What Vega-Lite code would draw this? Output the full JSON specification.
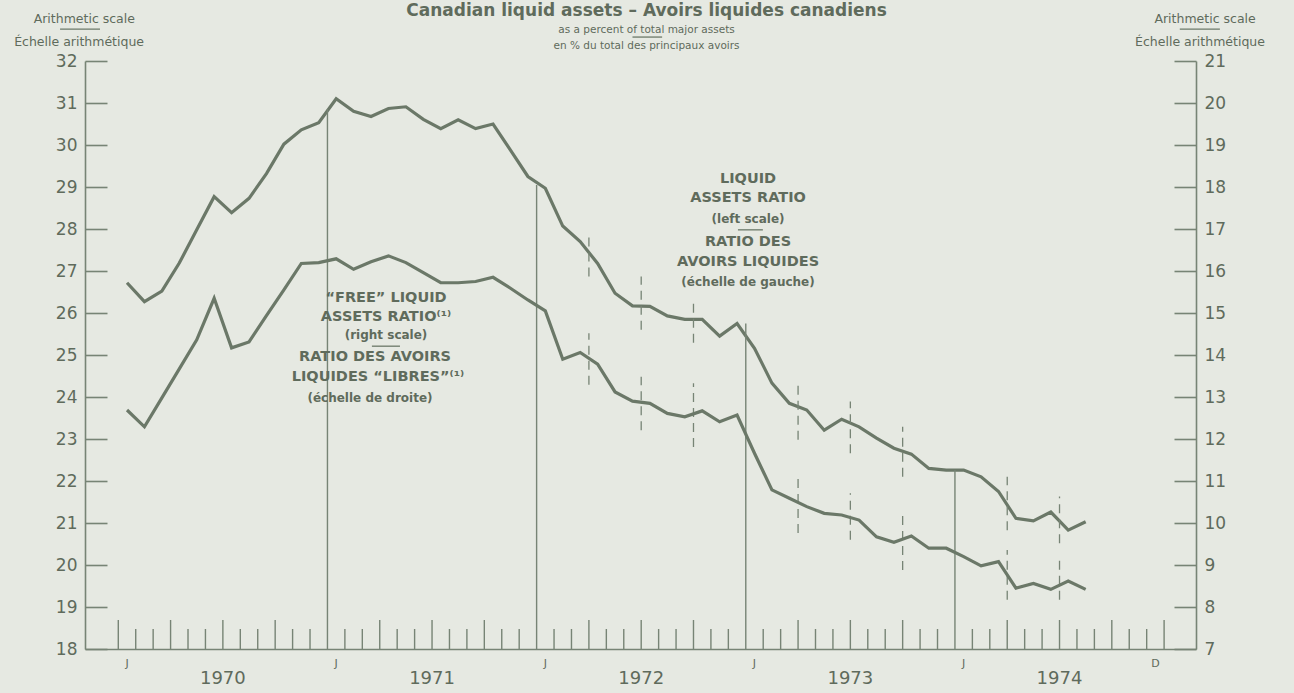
{
  "$schema": "https://vega.github.io/schema/vega-lite/v6.json",
  "width": 1111,
  "height": 588,
  "autosize": {"type": "none"},
  "padding": {"left": 85, "top": 61, "right": 98, "bottom": 44},
  "background": "#e6e9e2",
  "title": {
    "text": "Canadian liquid assets – Avoirs liquides canadiens",
    "subtitle": ["as a percent of total major assets", "en % du total des principaux avoirs"],
    "anchor": "middle",
    "dx": 6,
    "font": "DejaVu Sans",
    "fontSize": 17,
    "fontWeight": "bold",
    "color": "#5f6b5c",
    "subtitleFont": "DejaVu Sans",
    "subtitleFontSize": 10.5,
    "subtitleColor": "#5f6b5c",
    "subtitlePadding": 5,
    "subtitleLineHeight": 16,
    "offset": -39
  },
  "config": {
    "view": {"stroke": null},
    "axis": {
      "grid": false,
      "domainColor": "#778475",
      "domainWidth": 1.6,
      "tickColor": "#778475",
      "tickWidth": 1.6,
      "labelColor": "#5f6b5c",
      "labelFont": "DejaVu Sans",
      "labelFontSize": 17
    }
  },
  "datasets": {
    "upper": [
      {"month": "1970-01", "t": 0.5, "v": 26.72},
      {"month": "1970-02", "t": 1.5, "v": 26.27},
      {"month": "1970-03", "t": 2.5, "v": 26.52},
      {"month": "1970-04", "t": 3.5, "v": 27.19},
      {"month": "1970-05", "t": 4.5, "v": 27.98},
      {"month": "1970-06", "t": 5.5, "v": 28.77},
      {"month": "1970-07", "t": 6.5, "v": 28.39},
      {"month": "1970-08", "t": 7.5, "v": 28.73},
      {"month": "1970-09", "t": 8.5, "v": 29.32},
      {"month": "1970-10", "t": 9.5, "v": 30.02},
      {"month": "1970-11", "t": 10.5, "v": 30.36},
      {"month": "1970-12", "t": 11.5, "v": 30.53},
      {"month": "1971-01", "t": 12.5, "v": 31.1},
      {"month": "1971-02", "t": 13.5, "v": 30.8},
      {"month": "1971-03", "t": 14.5, "v": 30.68},
      {"month": "1971-04", "t": 15.5, "v": 30.87},
      {"month": "1971-05", "t": 16.5, "v": 30.91},
      {"month": "1971-06", "t": 17.5, "v": 30.61},
      {"month": "1971-07", "t": 18.5, "v": 30.39},
      {"month": "1971-08", "t": 19.5, "v": 30.6},
      {"month": "1971-09", "t": 20.5, "v": 30.39},
      {"month": "1971-10", "t": 21.5, "v": 30.5},
      {"month": "1971-11", "t": 22.5, "v": 29.88},
      {"month": "1971-12", "t": 23.5, "v": 29.25},
      {"month": "1972-01", "t": 24.5, "v": 28.97},
      {"month": "1972-02", "t": 25.5, "v": 28.07},
      {"month": "1972-03", "t": 26.5, "v": 27.7},
      {"month": "1972-04", "t": 27.5, "v": 27.18},
      {"month": "1972-05", "t": 28.5, "v": 26.47},
      {"month": "1972-06", "t": 29.5, "v": 26.17},
      {"month": "1972-07", "t": 30.5, "v": 26.16},
      {"month": "1972-08", "t": 31.5, "v": 25.93},
      {"month": "1972-09", "t": 32.5, "v": 25.85},
      {"month": "1972-10", "t": 33.5, "v": 25.85},
      {"month": "1972-11", "t": 34.5, "v": 25.45},
      {"month": "1972-12", "t": 35.5, "v": 25.75},
      {"month": "1973-01", "t": 36.5, "v": 25.16},
      {"month": "1973-02", "t": 37.5, "v": 24.33},
      {"month": "1973-03", "t": 38.5, "v": 23.85},
      {"month": "1973-04", "t": 39.5, "v": 23.69},
      {"month": "1973-05", "t": 40.5, "v": 23.21},
      {"month": "1973-06", "t": 41.5, "v": 23.47},
      {"month": "1973-07", "t": 42.5, "v": 23.29},
      {"month": "1973-08", "t": 43.5, "v": 23.02},
      {"month": "1973-09", "t": 44.5, "v": 22.78},
      {"month": "1973-10", "t": 45.5, "v": 22.64},
      {"month": "1973-11", "t": 46.5, "v": 22.3},
      {"month": "1973-12", "t": 47.5, "v": 22.26},
      {"month": "1974-01", "t": 48.5, "v": 22.26},
      {"month": "1974-02", "t": 49.5, "v": 22.1},
      {"month": "1974-03", "t": 50.5, "v": 21.75},
      {"month": "1974-04", "t": 51.5, "v": 21.11},
      {"month": "1974-05", "t": 52.5, "v": 21.05},
      {"month": "1974-06", "t": 53.5, "v": 21.26},
      {"month": "1974-07", "t": 54.5, "v": 20.83},
      {"month": "1974-08", "t": 55.5, "v": 21.03}
    ],
    "lower": [
      {"month": "1970-01", "t": 0.5, "r": 12.69},
      {"month": "1970-02", "t": 1.5, "r": 12.29},
      {"month": "1970-03", "t": 2.5, "r": 12.98},
      {"month": "1970-04", "t": 3.5, "r": 13.67},
      {"month": "1970-05", "t": 4.5, "r": 14.36},
      {"month": "1970-06", "t": 5.5, "r": 15.35},
      {"month": "1970-07", "t": 6.5, "r": 14.17},
      {"month": "1970-08", "t": 7.5, "r": 14.31},
      {"month": "1970-09", "t": 8.5, "r": 14.94},
      {"month": "1970-10", "t": 9.5, "r": 15.55},
      {"month": "1970-11", "t": 10.5, "r": 16.18},
      {"month": "1970-12", "t": 11.5, "r": 16.2},
      {"month": "1971-01", "t": 12.5, "r": 16.29},
      {"month": "1971-02", "t": 13.5, "r": 16.04},
      {"month": "1971-03", "t": 14.5, "r": 16.22},
      {"month": "1971-04", "t": 15.5, "r": 16.36},
      {"month": "1971-05", "t": 16.5, "r": 16.2},
      {"month": "1971-06", "t": 17.5, "r": 15.96},
      {"month": "1971-07", "t": 18.5, "r": 15.72},
      {"month": "1971-08", "t": 19.5, "r": 15.72},
      {"month": "1971-09", "t": 20.5, "r": 15.75},
      {"month": "1971-10", "t": 21.5, "r": 15.85},
      {"month": "1971-11", "t": 22.5, "r": 15.59},
      {"month": "1971-12", "t": 23.5, "r": 15.31},
      {"month": "1972-01", "t": 24.5, "r": 15.05},
      {"month": "1972-02", "t": 25.5, "r": 13.9},
      {"month": "1972-03", "t": 26.5, "r": 14.06},
      {"month": "1972-04", "t": 27.5, "r": 13.78},
      {"month": "1972-05", "t": 28.5, "r": 13.12},
      {"month": "1972-06", "t": 29.5, "r": 12.9},
      {"month": "1972-07", "t": 30.5, "r": 12.85},
      {"month": "1972-08", "t": 31.5, "r": 12.61},
      {"month": "1972-09", "t": 32.5, "r": 12.53},
      {"month": "1972-10", "t": 33.5, "r": 12.67},
      {"month": "1972-11", "t": 34.5, "r": 12.41},
      {"month": "1972-12", "t": 35.5, "r": 12.57},
      {"month": "1973-01", "t": 36.5, "r": 11.66},
      {"month": "1973-02", "t": 37.5, "r": 10.79},
      {"month": "1973-03", "t": 38.5, "r": 10.59},
      {"month": "1973-04", "t": 39.5, "r": 10.39},
      {"month": "1973-05", "t": 40.5, "r": 10.23},
      {"month": "1973-06", "t": 41.5, "r": 10.19},
      {"month": "1973-07", "t": 42.5, "r": 10.07},
      {"month": "1973-08", "t": 43.5, "r": 9.67},
      {"month": "1973-09", "t": 44.5, "r": 9.54},
      {"month": "1973-10", "t": 45.5, "r": 9.69},
      {"month": "1973-11", "t": 46.5, "r": 9.4},
      {"month": "1973-12", "t": 47.5, "r": 9.4},
      {"month": "1974-01", "t": 48.5, "r": 9.2},
      {"month": "1974-02", "t": 49.5, "r": 8.98},
      {"month": "1974-03", "t": 50.5, "r": 9.08},
      {"month": "1974-04", "t": 51.5, "r": 8.45},
      {"month": "1974-05", "t": 52.5, "r": 8.56},
      {"month": "1974-06", "t": 53.5, "r": 8.42},
      {"month": "1974-07", "t": 54.5, "r": 8.62},
      {"month": "1974-08", "t": 55.5, "r": 8.42}
    ],
    "monthTicks": [
      {"t": 1}, {"t": 2}, {"t": 4}, {"t": 5}, {"t": 7}, {"t": 8}, {"t": 10}, {"t": 11},
      {"t": 13}, {"t": 14}, {"t": 16}, {"t": 17}, {"t": 19}, {"t": 20}, {"t": 22}, {"t": 23},
      {"t": 25}, {"t": 26}, {"t": 28}, {"t": 29}, {"t": 31}, {"t": 32}, {"t": 34}, {"t": 35},
      {"t": 37}, {"t": 38}, {"t": 40}, {"t": 41}, {"t": 43}, {"t": 44}, {"t": 46}, {"t": 47},
      {"t": 49}, {"t": 50}, {"t": 52}, {"t": 53}, {"t": 55}, {"t": 56}, {"t": 58}, {"t": 59}
    ],
    "quarterTicks": [
      {"t": 0}, {"t": 3}, {"t": 6}, {"t": 9}, {"t": 15}, {"t": 18}, {"t": 21},
      {"t": 27}, {"t": 30}, {"t": 33}, {"t": 39}, {"t": 42}, {"t": 45},
      {"t": 51}, {"t": 54}, {"t": 57}, {"t": 60}
    ],
    "yearLines": [
      {"month": "1971-01", "t": 12, "top": 30.85},
      {"month": "1972-01", "t": 24, "top": 29.05},
      {"month": "1973-01", "t": 36, "top": 25.75},
      {"month": "1974-01", "t": 48, "top": 22.26}
    ],
    "dashes": [
      {"month": "1972-04", "t": 27, "lo": 26.87, "hi": 27.94},
      {"month": "1972-04", "t": 27, "lo": 24.29, "hi": 25.52},
      {"month": "1972-07", "t": 30, "lo": 25.6, "hi": 26.87},
      {"month": "1972-07", "t": 30, "lo": 23.21, "hi": 24.48},
      {"month": "1972-10", "t": 33, "lo": 25.29, "hi": 26.31},
      {"month": "1972-10", "t": 33, "lo": 22.81, "hi": 24.33},
      {"month": "1973-04", "t": 39, "lo": 22.98, "hi": 24.4},
      {"month": "1973-04", "t": 39, "lo": 20.76, "hi": 22.19},
      {"month": "1973-07", "t": 42, "lo": 22.66, "hi": 23.89},
      {"month": "1973-07", "t": 42, "lo": 20.6, "hi": 21.71},
      {"month": "1973-10", "t": 45, "lo": 22.1, "hi": 23.29},
      {"month": "1973-10", "t": 45, "lo": 19.88, "hi": 21.31},
      {"month": "1974-04", "t": 51, "lo": 20.83, "hi": 22.1},
      {"month": "1974-04", "t": 51, "lo": 19.17, "hi": 20.36},
      {"month": "1974-07", "t": 54, "lo": 20.52, "hi": 21.63},
      {"month": "1974-07", "t": 54, "lo": 19.17, "hi": 20.19}
    ],
    "annoBig": [
      {"label": "LIQUID", "t": 36.13, "v": 29.19},
      {"label": "ASSETS RATIO", "t": 36.13, "v": 28.73},
      {"label": "RATIO DES", "t": 36.13, "v": 27.68},
      {"label": "AVOIRS LIQUIDES", "t": 36.13, "v": 27.22},
      {"label": "“FREE” LIQUID", "t": 15.36, "v": 26.35},
      {"label": "ASSETS RATIO⁽¹⁾", "t": 15.36, "v": 25.9},
      {"label": "RATIO DES AVOIRS", "t": 14.73, "v": 24.95},
      {"label": "LIQUIDES “LIBRES”⁽¹⁾", "t": 14.9, "v": 24.48}
    ],
    "annoSmall": [
      {"label": "(left scale)", "t": 36.13, "v": 28.25},
      {"label": "(échelle de gauche)", "t": 36.13, "v": 26.75},
      {"label": "(right scale)", "t": 15.36, "v": 25.48},
      {"label": "(échelle de droite)", "t": 14.44, "v": 23.98}
    ],
    "separators": [
      {"t1": 35.55, "t2": 36.98, "v": 27.98},
      {"t1": 14.55, "t2": 16.16, "v": 25.21},
      {"t1": -3.34, "t2": -1.05, "v": 32.76},
      {"t1": 60.9, "t2": 63.2, "v": 32.76},
      {"t1": 29.5, "t2": 31.2, "v": 32.57}
    ],
    "headers": [
      {"label": "Arithmetic scale", "t": -1.95, "v": 32.99},
      {"label": "Échelle arithmétique", "t": -2.25, "v": 32.45},
      {"label": "Arithmetic scale", "t": 62.35, "v": 32.99},
      {"label": "Échelle arithmétique", "t": 62.06, "v": 32.45}
    ],
    "monthLabels": [
      {"label": "J", "t": 0.5}, {"label": "J", "t": 12.5}, {"label": "J", "t": 24.5},
      {"label": "J", "t": 36.5}, {"label": "J", "t": 48.5}, {"label": "D", "t": 59.5}
    ],
    "yearLabels": [
      {"label": "1970", "t": 6}, {"label": "1971", "t": 18}, {"label": "1972", "t": 30},
      {"label": "1973", "t": 42}, {"label": "1974", "t": 54}
    ]
  },
  "layer": [
    {
      "layer": [
        {
          "data": {"name": "upper"},
          "mark": {"type": "line", "color": "#6b7868", "strokeWidth": 3.2},
          "encoding": {
            "x": {"field": "t", "type": "quantitative", "title": null,
                  "scale": {"domain": [-1.91, 61.83], "nice": false, "zero": false},
                  "axis": {"labels": false, "ticks": false, "domain": true, "title": null}},
            "y": {"field": "v", "type": "quantitative", "title": null,
                  "scale": {"domain": [18, 32], "nice": false, "zero": false},
                  "axis": {"orient": "left", "title": null, "values": [18,19,20,21,22,23,24,25,26,27,28,29,30,31,32],
                           "tickSize": -22, "labelPadding": 30}}
          }
        },
        {
          "data": {"name": "monthTicks"},
          "mark": {"type": "rule", "color": "#778475", "strokeWidth": 1.4},
          "encoding": {
            "x": {"field": "t", "type": "quantitative", "title": null},
            "y": {"datum": 18, "type": "quantitative"},
            "y2": {"datum": 18.476}
          }
        },
        {
          "data": {"name": "quarterTicks"},
          "mark": {"type": "rule", "color": "#778475", "strokeWidth": 1.4},
          "encoding": {
            "x": {"field": "t", "type": "quantitative", "title": null},
            "y": {"datum": 18, "type": "quantitative"},
            "y2": {"datum": 18.69}
          }
        },
        {
          "data": {"name": "yearLines"},
          "mark": {"type": "rule", "color": "#778475", "strokeWidth": 1.4},
          "encoding": {
            "x": {"field": "t", "type": "quantitative", "title": null},
            "y": {"field": "top", "type": "quantitative", "title": null},
            "y2": {"datum": 18}
          }
        },
        {
          "data": {"name": "dashes"},
          "mark": {"type": "rule", "color": "#778475", "strokeWidth": 1.3, "strokeDash": [9, 6]},
          "encoding": {
            "x": {"field": "t", "type": "quantitative", "title": null},
            "y": {"field": "lo", "type": "quantitative", "title": null},
            "y2": {"field": "hi"}
          }
        },
        {
          "data": {"name": "separators"},
          "mark": {"type": "rule", "color": "#6b7868", "strokeWidth": 1.3},
          "encoding": {
            "x": {"field": "t1", "type": "quantitative", "title": null},
            "x2": {"field": "t2"},
            "y": {"field": "v", "type": "quantitative", "title": null}
          }
        },
        {
          "data": {"name": "annoBig"},
          "mark": {"type": "text", "font": "DejaVu Sans", "fontSize": 14.5, "fontWeight": "bold", "color": "#5f6b5c", "align": "center", "baseline": "middle"},
          "encoding": {
            "x": {"field": "t", "type": "quantitative", "title": null},
            "y": {"field": "v", "type": "quantitative", "title": null},
            "text": {"field": "label"}
          }
        },
        {
          "data": {"name": "annoSmall"},
          "mark": {"type": "text", "font": "DejaVu Sans", "fontSize": 12, "fontWeight": "bold", "color": "#5f6b5c", "align": "center", "baseline": "middle"},
          "encoding": {
            "x": {"field": "t", "type": "quantitative", "title": null},
            "y": {"field": "v", "type": "quantitative", "title": null},
            "text": {"field": "label"}
          }
        },
        {
          "data": {"name": "headers"},
          "mark": {"type": "text", "font": "DejaVu Sans", "fontSize": 12.5, "color": "#5f6b5c", "align": "center", "baseline": "middle"},
          "encoding": {
            "x": {"field": "t", "type": "quantitative", "title": null},
            "y": {"field": "v", "type": "quantitative", "title": null},
            "text": {"field": "label"}
          }
        },
        {
          "data": {"name": "monthLabels"},
          "mark": {"type": "text", "font": "DejaVu Sans", "fontSize": 11, "color": "#5f6b5c", "align": "center", "baseline": "middle"},
          "encoding": {
            "x": {"field": "t", "type": "quantitative", "title": null},
            "y": {"datum": 17.64, "type": "quantitative"},
            "text": {"field": "label"}
          }
        },
        {
          "data": {"name": "yearLabels"},
          "mark": {"type": "text", "font": "DejaVu Sans", "fontSize": 18, "color": "#5f6b5c", "align": "center", "baseline": "middle"},
          "encoding": {
            "x": {"field": "t", "type": "quantitative", "title": null},
            "y": {"datum": 17.286, "type": "quantitative"},
            "text": {"field": "label"}
          }
        }
      ]
    },
    {
      "data": {"name": "lower"},
      "mark": {"type": "line", "color": "#6b7868", "strokeWidth": 3.2},
      "encoding": {
        "x": {"field": "t", "type": "quantitative", "title": null},
        "y": {"field": "r", "type": "quantitative", "title": null,
              "scale": {"domain": [7, 21], "nice": false, "zero": false},
              "axis": {"orient": "right", "title": null, "values": [7,8,9,10,11,12,13,14,15,16,17,18,19,20,21],
                       "tickSize": -22, "labelPadding": 30}}
      }
    }
  ],
  "resolve": {"scale": {"y": "independent"}}
}
